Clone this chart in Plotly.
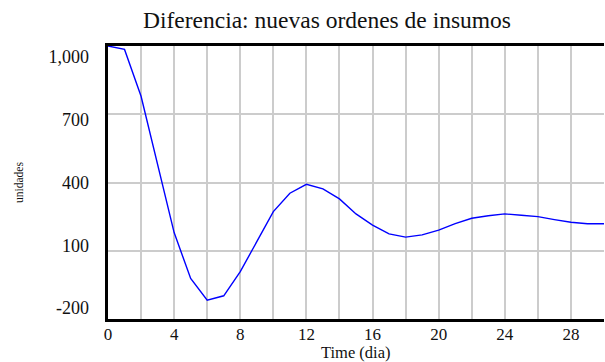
import plotly.graph_objects as go

# Simulation output: difference in new supply orders per day
time_dia = list(range(0, 31))
diferencia = [1000, 985, 779, 485, 180, -22, -117, -98, 8, 140, 272, 353, 392, 372, 328,
              262, 213, 174, 160, 170, 191, 219, 243, 254, 262, 256, 250, 237, 225, 219, 219]

y_ticks = [-200, 100, 400, 700, 1000]
y_labels = ["-200", "100", "400", "700", "1,000"]
x_ticks = [0, 4, 8, 12, 16, 20, 24, 28]

serif = "Liberation Serif"

fig = go.Figure()
fig.add_trace(go.Scatter(
    x=time_dia, y=diferencia, mode="lines",
    line=dict(color="#0000ff", width=1.4),
    showlegend=False, hoverinfo="x+y",
))
# invisible companion trace that carries the value labels on the left
fig.add_trace(go.Scatter(
    x=time_dia, y=diferencia, mode="lines", yaxis="y2",
    line=dict(color="rgba(0,0,0,0)", width=0),
    showlegend=False, hoverinfo="skip",
))

fig.update_layout(
    width=605, height=362,
    margin=dict(l=108, r=1, t=46, b=43),
    paper_bgcolor="white", plot_bgcolor="white",
    font=dict(family=serif, color="#111111"),
    title=dict(text="Diferencia: nuevas ordenes de insumos",
               x=327 / 605, xanchor="center", xref="container",
               y=1 - 20 / 362, yanchor="middle", yref="container",
               font=dict(size=23.5, family=serif, color="#111111")),
    xaxis=dict(
        range=[0, 30], tickvals=x_ticks, ticks="",
        tickfont=dict(size=17, family=serif), ticklabelstandoff=-2,
        showgrid=True, gridcolor="#cccccc", gridwidth=1.5,
        minor=dict(dtick=2, tick0=0, showgrid=True, gridcolor="#cccccc", gridwidth=1.5),
        showline=True, linecolor="black", linewidth=3, mirror=True,
        zeroline=False,
    ),
    yaxis=dict(
        range=[-200, 1000], tickvals=y_ticks, showticklabels=False, ticks="",
        showgrid=True, gridcolor="#cccccc", gridwidth=1.5,
        showline=True, linecolor="black", linewidth=3,
        zeroline=False,
    ),
    yaxis2=dict(
        overlaying="y", side="left", range=[-252.6, 1052.6],
        tickvals=y_ticks, ticktext=y_labels, ticks="",
        tickfont=dict(size=18, family=serif), ticklabelstandoff=18,
        showgrid=False, zeroline=False, showline=False,
        title=dict(text="unidades", font=dict(size=11.5, family=serif), standoff=22),
    ),
    annotations=[dict(
        text="Time (dia)", xref="paper", yref="paper", x=0.5, y=0,
        xanchor="center", yanchor="middle", yshift=-33, showarrow=False,
        font=dict(size=16.5, family=serif, color="#111111"),
    )],
)

fig.write_html("out.html")
